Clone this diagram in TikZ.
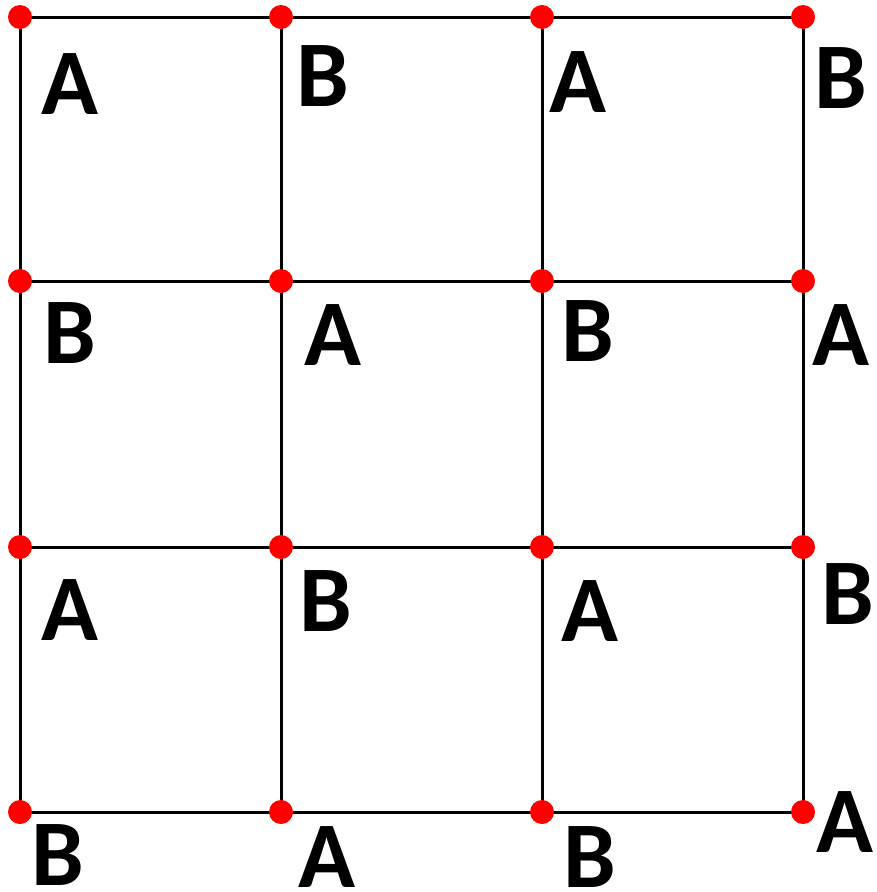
\documentclass[tikz,border=0pt]{standalone}
\usepackage{fontspec}
\setmainfont{Carlito}
\usetikzlibrary{positioning}

\begin{document}
\begin{tikzpicture}[
    x=1pt,
    y=-1pt,
    dot/.style={
        circle,
        fill=red,
        inner sep=0pt,
        minimum size=24pt
    },
    edge/.style={
        line width=3pt
    },
    letter/.style={
        inner sep=0pt,
        font=\fontsize{94}{94}\selectfont\bfseries
    }
]
\useasboundingbox (0,0) rectangle (877,892);

% Grid points
\coordinate (p00) at (20,17);
\coordinate (p01) at (281,17);
\coordinate (p02) at (542,17);
\coordinate (p03) at (803,17);
\coordinate (p10) at (20,281);
\coordinate (p11) at (281,281);
\coordinate (p12) at (542,281);
\coordinate (p13) at (803,281);
\coordinate (p20) at (20,547);
\coordinate (p21) at (281,547);
\coordinate (p22) at (542,547);
\coordinate (p23) at (803,547);
\coordinate (p30) at (20,812);
\coordinate (p31) at (281,812);
\coordinate (p32) at (542,812);
\coordinate (p33) at (803,812);

% Lines
\draw[edge] (p00) -- (p03);
\draw[edge] (p10) -- (p13);
\draw[edge] (p20) -- (p23);
\draw[edge] (p30) -- (p33);
\draw[edge] (p00) -- (p30);
\draw[edge] (p01) -- (p31);
\draw[edge] (p02) -- (p32);
\draw[edge] (p03) -- (p33);

% Dots
\node[dot] (d00) at (p00) {};
\node[dot] (d01) at (p01) {};
\node[dot] (d02) at (p02) {};
\node[dot] (d03) at (p03) {};
\node[dot] (d10) at (p10) {};
\node[dot] (d11) at (p11) {};
\node[dot] (d12) at (p12) {};
\node[dot] (d13) at (p13) {};
\node[dot] (d20) at (p20) {};
\node[dot] (d21) at (p21) {};
\node[dot] (d22) at (p22) {};
\node[dot] (d23) at (p23) {};
\node[dot] (d30) at (p30) {};
\node[dot] (d31) at (p31) {};
\node[dot] (d32) at (p32) {};
\node[dot] (d33) at (p33) {};

% Labels
\node[letter] (l00) at (70,84) {A};
\node[letter] (l01) at (323,76) {B};
\node[letter] (l02) at (578,82) {A};
\node[letter] (l03) at (841,78) {B};
\node[letter] (l10) at (70,333) {B};
\node[letter] (l11) at (333,335) {A};
\node[letter] (l12) at (588,331) {B};
\node[letter] (l13) at (841,335) {A};
\node[letter] (l20) at (70,610) {A};
\node[letter] (l21) at (326,601) {B};
\node[letter] (l22) at (590,611) {A};
\node[letter] (l23) at (848,594) {B};
\node[letter] (l30) at (58,855) {B};
\node[letter] (l31) at (327,857) {A};
\node[letter] (l32) at (590,857) {B};
\node[letter] (l33) at (845,822) {A};

\end{tikzpicture}
\end{document}
